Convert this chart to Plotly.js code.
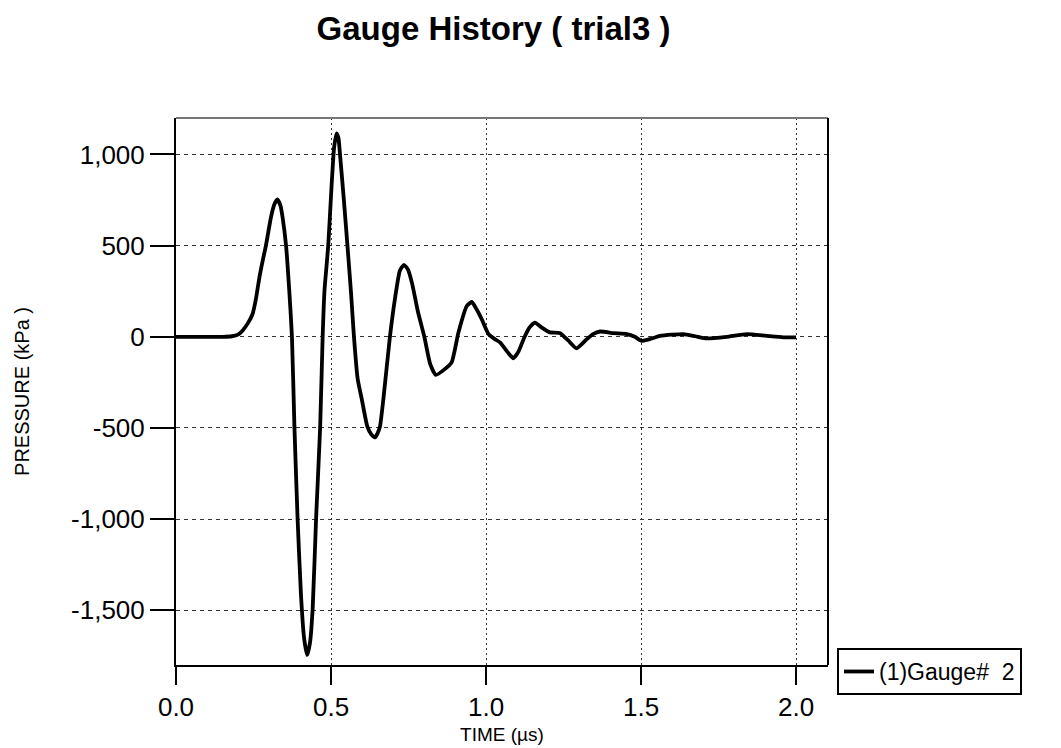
<!DOCTYPE html>
<html>
<head>
<meta charset="utf-8">
<script src="https://cdn.plot.ly/plotly-3.0.1.min.js"></script>
<style>html,body{margin:0;padding:0;background:#fff;}#chart{width:1061px;height:748px;}</style>
</head>
<body>
<div id="chart"></div>
<script>
// Time (µs)
const time = [0.000, 0.050, 0.100, 0.150, 0.180, 0.200, 0.215, 0.232, 0.247, 0.258, 0.269, 0.280, 0.290, 0.306, 0.317, 0.327, 0.337, 0.344, 0.355, 0.366, 0.374, 0.382, 0.392, 0.403, 0.413, 0.423, 0.432, 0.441, 0.452, 0.465, 0.473, 0.479, 0.491, 0.502, 0.510, 0.518, 0.524, 0.529, 0.541, 0.553, 0.565, 0.574, 0.586, 0.599, 0.617, 0.630, 0.642, 0.650, 0.658, 0.669, 0.690, 0.706, 0.722, 0.735, 0.748, 0.762, 0.780, 0.801, 0.820, 0.838, 0.865, 0.889, 0.911, 0.938, 0.954, 0.970, 0.986, 1.008, 1.029, 1.045, 1.077, 1.088, 1.105, 1.121, 1.140, 1.158, 1.180, 1.206, 1.239, 1.265, 1.292, 1.325, 1.345, 1.368, 1.411, 1.454, 1.480, 1.502, 1.530, 1.561, 1.600, 1.637, 1.675, 1.712, 1.776, 1.841, 1.905, 1.959, 2.000];
// Pressure (kPa) for gauge 2
const pressure = [0, 0, 0, 0, 3, 12, 35, 75, 125, 210, 325, 420, 500, 653, 725, 753, 720, 653, 500, 235, 0, -494, -989, -1412, -1650, -1745, -1680, -1485, -989, -494, 0, 255, 500, 834, 1040, 1116, 1090, 1000, 760, 500, 230, 0, -231, -340, -491, -535, -552, -530, -491, -340, 0, 206, 362, 395, 370, 289, 140, 0, -150, -209, -180, -140, 24, 169, 191, 150, 97, 15, -13, -31, -100, -118, -80, -13, 50, 78, 50, 24, 20, -20, -63, -13, 15, 29, 20, 15, 0, -22, -12, 5, 12, 15, 3, -9, 0, 15, 5, -3, -3];

const xTickVals = [0, 0.5, 1.0, 1.5, 2.0];
const xTickText = ['0.0', '0.5', '1.0', '1.5', '2.0'];
const yTickVals = [-1500, -1000, -500, 0, 500, 1000];
const yTickText = ['-1,500', '-1,000', '-500', '0', '500', '1,000'];
const seriesName = '(1)Gauge#\u00a0 2';

const FONT = 'Liberation Sans, Arial, Helvetica, sans-serif';

const trace = {
  x: time,
  y: pressure,
  type: 'scatter',
  mode: 'lines',
  name: seriesName,
  line: {color: '#000', width: 3.8, shape: 'spline', smoothing: 0.5}
};

const layout = {
  width: 1061,
  height: 748,
  paper_bgcolor: '#fff',
  plot_bgcolor: '#fff',
  margin: {l: 176, r: 233, t: 118, b: 83},
  font: {family: FONT, color: '#000'},
  title: {
    text: '<b>Gauge History ( trial3 )</b>',
    font: {family: FONT, size: 33, color: '#000'},
    xref: 'paper', x: 0.487, xanchor: 'center',
    yref: 'container', y: 0.962, yanchor: 'middle'
  },
  showlegend: true,
  legend: {
    x: 1.0138, xanchor: 'left',
    y: 0.031, yanchor: 'top',
    bordercolor: '#000', borderwidth: 2,
    bgcolor: '#fff',
    font: {family: FONT, size: 23, color: '#000'},
    itemwidth: 30
  },
  xaxis: {
    range: [0, 2.103],
    tickmode: 'array', tickvals: xTickVals, ticktext: xTickText,
    ticks: 'outside', ticklen: 18, tickwidth: 2, tickcolor: '#000',
    tickfont: {family: FONT, size: 26, color: '#000'},
    showline: true, linecolor: '#000', linewidth: 2, mirror: false,
    showgrid: true, gridcolor: '#333', gridwidth: 1, griddash: '2px,3px',
    zeroline: false,
    title: {text: 'TIME (µs)', font: {family: FONT, size: 19, color: '#000'}, standoff: 6}
  },
  yaxis: {
    range: [-1800, 1200],
    tickmode: 'array', tickvals: yTickVals, ticktext: yTickText,
    ticks: 'outside', ticklen: 24, tickwidth: 2, tickcolor: '#000',
    tickfont: {family: FONT, size: 26, color: '#000'},
    showline: true, linecolor: '#000', linewidth: 2, mirror: false,
    showgrid: true, gridcolor: '#333', gridwidth: 1, griddash: '4px,4px',
    zeroline: false,
    title: {text: 'PRESSURE (kPa )', font: {family: FONT, size: 20, color: '#000'}, standoff: 36}
  },
  shapes: [
    {type: 'line', xref: 'paper', yref: 'paper', x0: 0, x1: 1, y0: 1, y1: 1, line: {color: '#777', width: 2}},
    {type: 'line', xref: 'paper', yref: 'paper', x0: 1, x1: 1, y0: 0, y1: 1, line: {color: '#000', width: 2}}
  ]
};

Plotly.newPlot('chart', [trace], layout, {displayModeBar: false, staticPlot: true});
</script>
</body>
</html>
